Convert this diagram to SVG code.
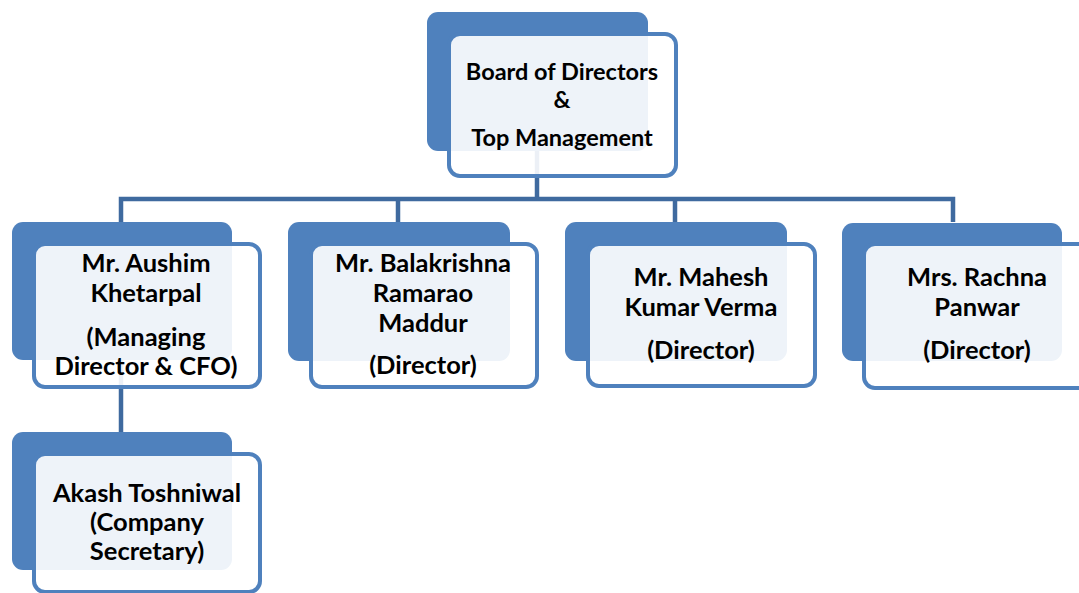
<svg xmlns="http://www.w3.org/2000/svg" width="1079" height="593" viewBox="0 0 1079 593">
<style>
.back{fill:#4F81BD}
.front{fill:#FFFFFF;fill-opacity:0.9;stroke:#4F81BD;stroke-width:4}
.conn{fill:none;stroke:#3F6A9F;stroke-width:4.5}
text{font-family:Lato,"Liberation Sans",sans-serif;font-weight:bold;font-size:25.5px;fill:#000;text-anchor:middle}
.top{font-size:23.5px}
</style>
<rect width="1079" height="593" fill="#FFFFFF"/>
<g id="connectors">
<path class="conn" d="M537,151 V199"/>
<path class="conn" d="M121,222 V199 H953 V222"/>
<path class="conn" d="M398,199 V222"/>
<path class="conn" d="M675,199 V222"/>
<path class="conn" d="M121,360 V432"/>
</g>
<g id="node-board">
<rect class="back" x="427" y="12" width="221" height="139" rx="11"/>
<rect class="front" x="449" y="34" width="227" height="142" rx="11"/>
<text class="top" x="562" y="80">Board of Directors</text>
<text class="top" x="562" y="108">&amp;</text>
<text class="top" x="562" y="146">Top Management</text>
</g>
<g id="node-aushim">
<rect class="back" x="12" y="222" width="220" height="138" rx="11"/>
<rect class="front" x="34" y="244" width="226" height="143" rx="11"/>
<text x="146" y="272">Mr. Aushim</text>
<text x="146" y="302">Khetarpal</text>
<text x="146" y="346">(Managing</text>
<text x="146" y="375">Director &amp; CFO)</text>
</g>
<g id="node-balakrishna">
<rect class="back" x="288" y="222" width="222" height="139" rx="11"/>
<rect class="front" x="311" y="244" width="226" height="143" rx="11"/>
<text x="423" y="272">Mr. Balakrishna</text>
<text x="423" y="302">Ramarao</text>
<text x="423" y="332">Maddur</text>
<text x="423" y="374">(Director)</text>
</g>
<g id="node-mahesh">
<rect class="back" x="565" y="222" width="222" height="139" rx="11"/>
<rect class="front" x="588" y="244" width="227" height="142" rx="11"/>
<text x="701" y="286">Mr. Mahesh</text>
<text x="701" y="316">Kumar Verma</text>
<text x="701" y="359">(Director)</text>
</g>
<g id="node-rachna">
<rect class="back" x="842" y="223" width="220" height="138" rx="11"/>
<rect class="front" x="864" y="244" width="226" height="144" rx="11"/>
<text x="977" y="286">Mrs. Rachna</text>
<text x="977" y="316">Panwar</text>
<text x="977" y="359">(Director)</text>
</g>
<g id="node-akash">
<rect class="back" x="12" y="432" width="220" height="138" rx="11"/>
<rect class="front" x="34" y="454" width="226" height="138" rx="11"/>
<text x="147" y="502">Akash Toshniwal</text>
<text x="147" y="531">(Company</text>
<text x="147" y="560">Secretary)</text>
</g>
</svg>
